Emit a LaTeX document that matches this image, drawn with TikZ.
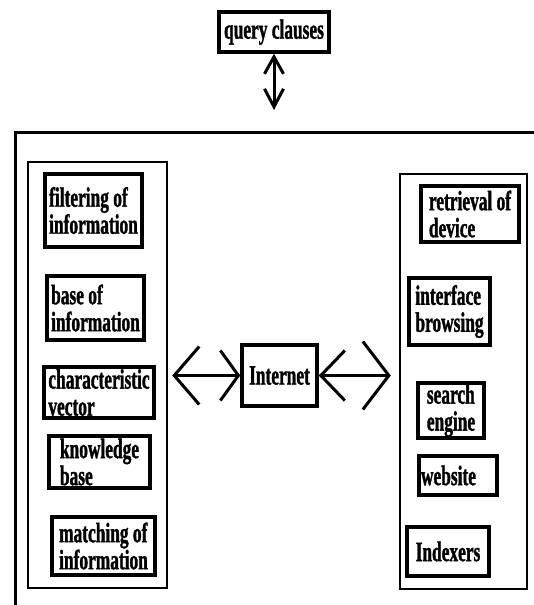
\documentclass[tikz,border=0pt]{standalone}
\usepackage{fontspec}
\usepackage{tikz}
\usetikzlibrary{arrows.meta}
\newfontfamily\labelfont{Liberation Serif}[FakeStretch=0.62, FakeBold=1.2]

\begin{document}
\begin{tikzpicture}[x=1pt, y=-1pt,
  item/.style={draw, line width=3.5pt, inner sep=1pt, align=left,
    font=\labelfont\bfseries\fontsize{28}{27}\selectfont},
  panel/.style={draw, line width=2.5pt, inner sep=0pt},
  link/.style={line width=3pt}]
  \useasboundingbox (0,0) rectangle (534,605);

  % top of the chain
  \node[item, minimum width=110pt, minimum height=40pt] (query) at (274,32) {query clauses};
  \coordinate (qend) at (274,110);
  \draw[link, {Straight Barb[length=17pt,width=19pt]}-{Straight Barb[length=18pt,width=19pt]}] (query.south) -- (qend);

  % open frame
  \draw[line width=3pt] (15,605) -- (15,132) -- (534,132);

  % left side
  \node[panel, minimum width=139pt, minimum height=426pt] (lpanel) at (97.5,375) {};
  \node[item, minimum width=97pt, minimum height=73pt] (filter) at (93.5,210.5) {filtering of\\information};
  \node[item, minimum width=97pt, minimum height=64pt] (infobase) at (95.5,308) {base of\\information};
  \node[item, minimum width=110pt, minimum height=51pt] (vector) at (99,392.5) {characteristic\\vector};
  \node[item, minimum width=101pt, minimum height=52pt] (knowbase) at (99.5,462) {knowledge\\base};
  \node[item, minimum width=103pt, minimum height=58pt] (matching) at (103.5,546) {matching of\\information};

  % middle
  \node[item, minimum width=75pt, minimum height=61pt] (net) at (279.5,375.5) {Internet};

  % right side
  \node[panel, minimum width=127pt, minimum height=415pt] (rpanel) at (463.5,381.5) {};
  \node[item, minimum width=98pt, minimum height=56pt] (retrieval) at (470,214) {retrieval of\\device};
  \node[item, minimum width=81pt, minimum height=67pt] (browsing) at (449.5,311.5) {interface\\browsing};
  \node[item, minimum width=66pt, minimum height=53pt] (engine) at (451,410.5) {search\\engine};
  \node[item, minimum width=78pt, minimum height=39pt, text width=74pt] (website) at (458,475.5) {website};
  \node[item, minimum width=82pt, minimum height=49pt] (indexers) at (448,551.5) {Indexers};

  \draw[link, {Straight Barb[length=25pt,width=58pt]}-{Straight Barb[length=18pt,width=50pt]}]
    ([xshift=4pt]lpanel.east |- net.west) -- (net.west);
  \draw[link, shorten >=8pt, {Straight Barb[length=24pt,width=50pt]}-{Straight Barb[length=26pt,width=68pt]}]
    (net.east) -- (rpanel.west |- net.east);
\end{tikzpicture}
\end{document}
